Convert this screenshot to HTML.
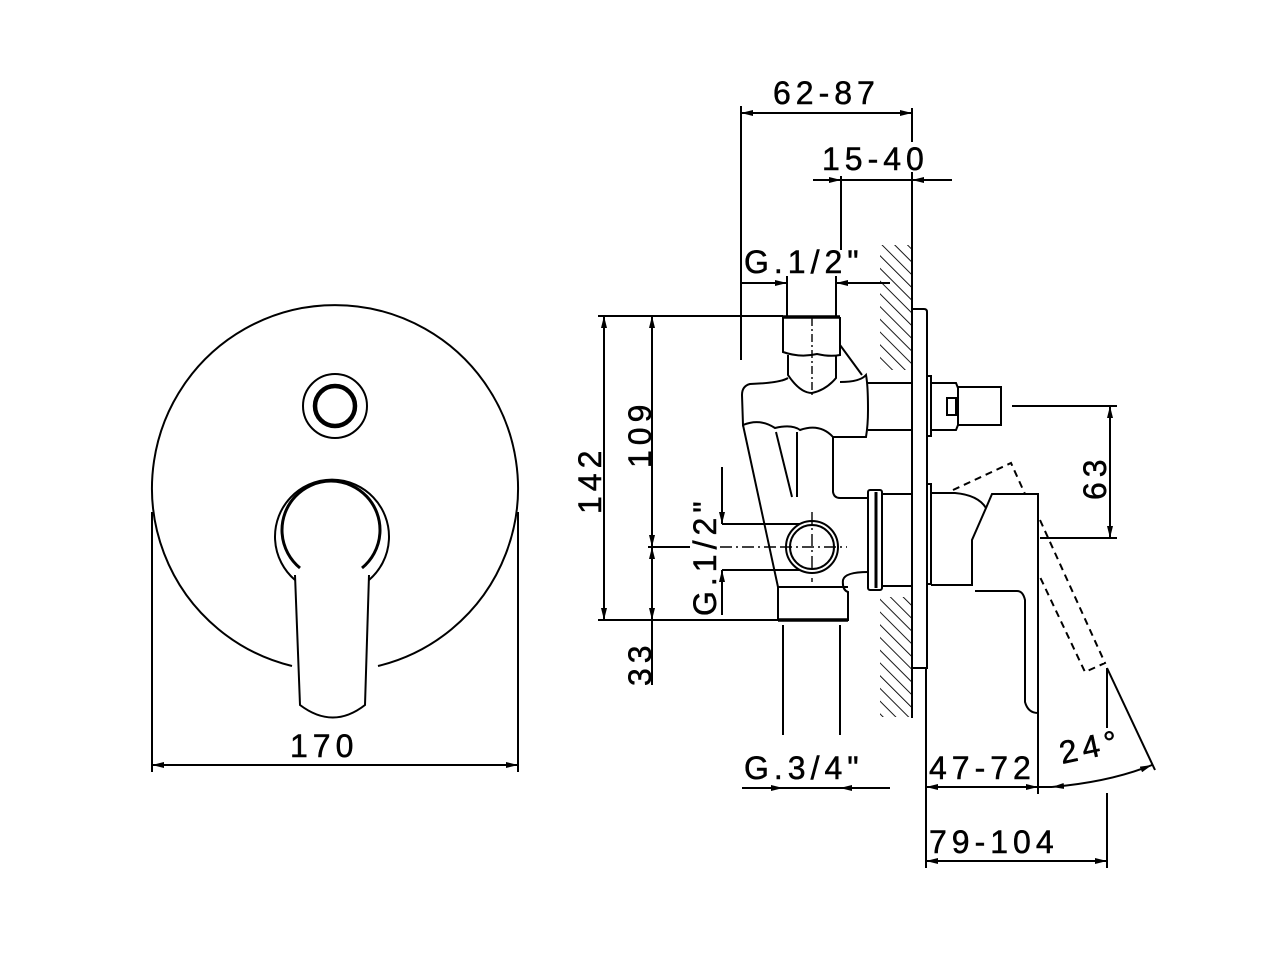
<!DOCTYPE html>
<html><head><meta charset="utf-8"><style>
html,body{margin:0;padding:0;background:#fff}
svg{display:block}
text{font-family:"Liberation Sans",Arial,sans-serif;font-size:32px;fill:#000;letter-spacing:5px;stroke:#000;stroke-width:0.5px}
</style></head><body>
<svg width="1280" height="960" viewBox="0 0 1280 960" xmlns="http://www.w3.org/2000/svg">
<defs>
<marker id="a" viewBox="0 0 12 6" refX="12" refY="3" markerWidth="12" markerHeight="6" markerUnits="userSpaceOnUse" orient="auto-start-reverse"><path d="M0,0 L12,3 L0,6 Z" fill="#000"/></marker>
<pattern id="h" width="9" height="9" patternUnits="userSpaceOnUse" patternTransform="rotate(-45)"><line x1="0" y1="0" x2="0" y2="9" stroke="#000" stroke-width="1.8"/></pattern>
</defs>
<g fill="none" stroke="#000" stroke-width="2">
<!-- FRONT VIEW -->
<path d="M292,666 A183,183 0 1 1 378,666"/>
<circle cx="335" cy="406" r="32"/>
<circle cx="335" cy="406" r="20" stroke-width="4.5"/>
<path d="M295,580 A57,57 0 1 1 369,580"/>
<path d="M300,568 A49,49 0 1 1 362,568" stroke-width="3"/>
<path d="M295,575 L300,705 Q333,730 365,705 L369,575"/>
<line x1="152" y1="512" x2="152" y2="772"/>
<line x1="518" y1="512" x2="518" y2="772"/>
<line x1="152" y1="765" x2="518" y2="765" marker-start="url(#a)" marker-end="url(#a)"/>

<!-- WALL -->
<rect x="880" y="245" width="32" height="125" fill="url(#h)" stroke="none"/>
<rect x="880" y="597" width="32" height="120" fill="url(#h)" stroke="none"/>
<line x1="912" y1="245" x2="912" y2="718"/>
<path d="M912,309 L924,309 Q927,309 927,312 L927,668 L912,668"/>

<!-- diverter -->
<rect x="927" y="376" width="4" height="60"/>
<path d="M931,383 L956,383 L958,388 L958,425 L956,430 L931,430"/>
<rect x="958" y="387" width="43" height="38"/>
<rect x="947" y="398" width="9" height="17"/>

<!-- handle side -->
<rect x="927" y="484" width="4" height="100"/>
<path d="M931,493 L955,493 Q978,495 986,508 L972,540 L972,585 L931,585"/>
<path d="M986,508 L992,494 L1038,494 L1038,713 Q1028,713 1025,702 L1025,600 Q1023,591 1017,591 L975,591"/>
<path d="M953,490 L1011,463 L1025,494 M1040,520 L1105,663 L1085,672 L1040,577" stroke-dasharray="7,5"/>

<!-- valve body -->
<path d="M783,317 L840,317" stroke-width="3.5"/>
<path d="M783,317 L783,352 Q800,358 817,354 Q830,357 840,355 L840,317"/>
<path d="M788,355 L788,375 Q800,393 812,393 Q826,390 836,378 L836,355"/>
<line x1="812" y1="318" x2="812" y2="395" stroke-width="1.4" stroke-dasharray="8,3,2,3"/>
<path d="M840,345 L862,375"/>
<path d="M788,378 Q780,383 750,384 Q742,386 742,395 L743,425 Q760,418 775,428 Q792,424 800,430 Q820,423 833,437 L866,437 Q868,425 868,410 Q868,385 866,375 Q860,382 840,382"/>
<path d="M868,383 L912,383 M868,430 L912,430"/>
<path d="M833,437 L833,492 Q834,498 840,498 L868,498"/>
<rect x="868" y="490" width="14" height="100" rx="2"/>
<line x1="876" y1="492" x2="876" y2="588" stroke-width="3"/>
<path d="M882,494 L912,494 M882,586 L912,586"/>
<path d="M743,425 L778,587 L778,620 L848,620 L848,592 Q842,590 843,580 Q845,572 868,572"/>
<path d="M778,620 L848,620" stroke-width="3.5"/>
<path d="M778,587 L848,587"/>
<path d="M776,432 L792,497 M797,432 L797,497"/>
<circle cx="812" cy="547" r="26"/>
<circle cx="812" cy="547" r="22"/>
<path d="M780,547 L847,547 M812,512 L812,582" stroke-width="1.4" stroke-dasharray="12,4,2,4"/>

<!-- top dims -->
<line x1="741" y1="106" x2="741" y2="360"/>
<line x1="912" y1="108" x2="912" y2="142"/>
<line x1="912" y1="172" x2="912" y2="245"/>
<line x1="741" y1="113" x2="912" y2="113" marker-start="url(#a)" marker-end="url(#a)"/>
<line x1="841" y1="176" x2="841" y2="250"/>
<line x1="813" y1="180" x2="841" y2="180" marker-end="url(#a)"/>
<line x1="952" y1="180" x2="912" y2="180" marker-end="url(#a)"/>
<line x1="841" y1="180" x2="912" y2="180"/>
<line x1="787" y1="276" x2="787" y2="316"/>
<line x1="836" y1="276" x2="836" y2="316"/>
<line x1="742" y1="283" x2="787" y2="283" marker-end="url(#a)"/>
<line x1="890" y1="283" x2="836" y2="283" marker-end="url(#a)"/>

<!-- left dims -->
<line x1="598" y1="316" x2="783" y2="316"/>
<line x1="598" y1="620" x2="778" y2="620"/>
<line x1="604" y1="316" x2="604" y2="620" marker-start="url(#a)" marker-end="url(#a)"/>
<line x1="652" y1="316" x2="652" y2="547" marker-start="url(#a)" marker-end="url(#a)"/>
<line x1="652" y1="547" x2="652" y2="620" marker-start="url(#a)" marker-end="url(#a)"/>
<line x1="652" y1="620" x2="652" y2="685"/>
<line x1="648" y1="547" x2="690" y2="547"/>
<line x1="722" y1="467" x2="722" y2="524" marker-end="url(#a)"/>
<line x1="722" y1="615" x2="722" y2="570" marker-end="url(#a)"/>
<line x1="722" y1="524" x2="800" y2="524"/>
<line x1="722" y1="570" x2="800" y2="570"/>
<line x1="720" y1="547" x2="780" y2="547" stroke-width="1.4" stroke-dasharray="12,4,2,4"/>

<!-- bottom dims -->
<line x1="783" y1="625" x2="783" y2="735"/>
<line x1="840" y1="625" x2="840" y2="735"/>
<line x1="742" y1="788" x2="783" y2="788" marker-end="url(#a)"/>
<line x1="890" y1="788" x2="840" y2="788" marker-end="url(#a)"/>
<line x1="783" y1="788" x2="840" y2="788"/>
<line x1="926" y1="668" x2="926" y2="868"/>
<line x1="1038" y1="713" x2="1038" y2="794"/>
<line x1="926" y1="787" x2="1038" y2="787" marker-start="url(#a)" marker-end="url(#a)"/>
<path d="M1052,787 Q1110,782 1152,765" marker-start="url(#a)" marker-end="url(#a)"/>
<line x1="1038" y1="787" x2="1052" y2="787"/>
<line x1="1107" y1="668" x2="1155" y2="770"/>
<line x1="1107" y1="668" x2="1107" y2="728"/>
<line x1="1107" y1="793" x2="1107" y2="868"/>
<line x1="926" y1="861" x2="1107" y2="861" marker-start="url(#a)" marker-end="url(#a)"/>

<!-- 63 -->
<line x1="1012" y1="406" x2="1117" y2="406"/>
<line x1="1040" y1="538" x2="1117" y2="538"/>
<line x1="1110" y1="406" x2="1110" y2="538" marker-start="url(#a)" marker-end="url(#a)"/>
</g>

<g>
<text x="290" y="757">170</text>
<text x="773" y="104">62-87</text>
<text x="822" y="170">15-40</text>
<text x="744" y="273">G.1/2"</text>
<text x="744" y="779">G.3/4"</text>
<text x="929" y="779">47-72</text>
<text x="929" y="853">79-104</text>
<text transform="translate(1062,764) rotate(-12)">24°</text>
<text transform="translate(1106,500) rotate(-90)">63</text>
<text transform="translate(601,514) rotate(-90)">142</text>
<text transform="translate(651,468) rotate(-90)">109</text>
<text transform="translate(651,686) rotate(-90)">33</text>
<text transform="translate(716,616) rotate(-90)">G.1/2"</text>
</g>
</svg>
</body></html>
